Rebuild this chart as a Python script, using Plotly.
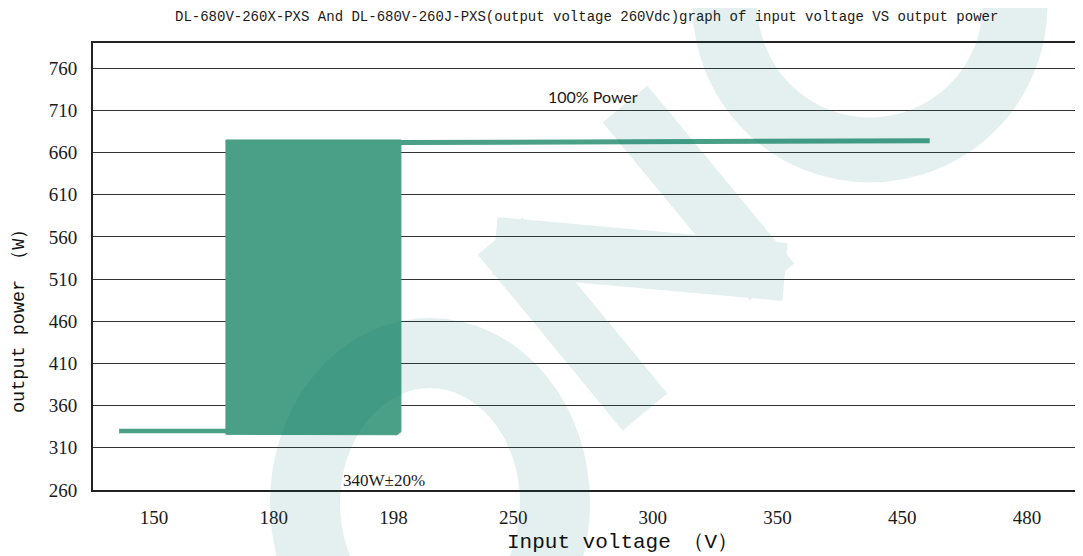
import plotly.graph_objects as go


# voltage axis is drawn as evenly spaced slots (0 = 150 V ... 7 = 480 V), like the original
VOLTAGE_LABELS = ["150", "180", "198", "250", "300", "350", "450", "480"]
VOLTAGE_SLOTS = [0, 0.96, 1.92, 2.88, 4.0, 5.0, 6.0, 7.0]
POWER_TICKS = [260, 310, 360, 410, 460, 510, 560, 610, 660, 710, 760]

# low input voltage: derated output (~330 W)
low_x = [-0.28, 0.6]
low_y = [330, 330]

# 180-198 V band between 340W +-20% and full power
band_x = [0.577, 0.577, 1.98, 1.98, 1.95, 0.577]
band_y = [326, 675, 675, 329, 325.5, 326]

# 198 V and above: 100% power
full_x = [1.98, 6.22]
full_y = [672, 674]


GREEN = "#4a9f87"
GRID = "#333333"
TEXT = "#1a1a1a"
WATERMARK = "rgba(0,120,110,0.11)"
SERIF = "Liberation Serif"
MONO = "Liberation Mono"

# page body has an 8px margin, so the figure is 8px smaller than the window
FIG_W, FIG_H = 1075, 548
MARGIN = dict(l=85, r=0, t=35, b=66)
PLOT_LEFT, PLOT_BOTTOM, PLOT_W, PLOT_H = 93, 490, 990, 447


def px(x):
    # screen pixel -> paper x
    return (x - PLOT_LEFT) / PLOT_W


def py(y):
    # screen pixel -> paper y
    return (PLOT_BOTTOM - y) / PLOT_H


fig = go.Figure()

fig.add_trace(go.Scatter(x=band_x, y=band_y, mode="lines", fill="toself",
                         fillcolor=GREEN, line=dict(color=GREEN, width=1)))
fig.add_trace(go.Scatter(x=low_x, y=low_y, mode="lines",
                         line=dict(color=GREEN, width=4.5)))
fig.add_trace(go.Scatter(x=full_x, y=full_y, mode="lines",
                         line=dict(color=GREEN, width=5)))

fig.update_layout(width=FIG_W, height=FIG_H, autosize=False,
                  margin=MARGIN,
                  plot_bgcolor="white", paper_bgcolor="white",
                  showlegend=False,
                  font=dict(family=SERIF, color=TEXT))

fig.update_xaxes(range=[-0.489, 7.449],
                 tickvals=VOLTAGE_SLOTS, ticktext=VOLTAGE_LABELS,
                 tickfont=dict(family=SERIF, size=19, color=TEXT),
                 ticklabelstandoff=9,
                 showgrid=False, zeroline=False,
                 showline=True, mirror=True, linecolor="#222222", linewidth=2)

fig.update_yaxes(range=[260, 790], tickvals=POWER_TICKS,
                 tickfont=dict(family=SERIF, size=19, color=TEXT),
                 ticklabelstandoff=10,
                 showgrid=True, gridcolor=GRID, gridwidth=1, zeroline=False,
                 showline=True, mirror=False, linecolor="#222222", linewidth=2)

# chart title
fig.add_annotation(text="DL-680V-260X-PXS And DL-680V-260J-PXS(output voltage 260Vdc)graph of input voltage VS output power",
                   xref="paper", yref="paper", x=px(586), y=py(17),
                   xanchor="center", yanchor="middle", showarrow=False,
                   font=dict(family=MONO, size=14, color=TEXT))

# axis titles
fig.add_annotation(text="Input voltage （V）",
                   xref="paper", yref="paper", x=px(622), y=py(542),
                   xanchor="center", yanchor="middle", showarrow=False,
                   font=dict(family=MONO, size=21, color="#111111"))
fig.add_annotation(text="output power （W）", textangle=-90,
                   xref="paper", yref="paper", x=px(20), y=py(317),
                   xanchor="center", yanchor="middle", showarrow=False,
                   font=dict(family=MONO, size=18.5, color="#111111"))

# region labels
fig.add_annotation(text="100% Power", x=3.52, y=726,
                   showarrow=False, font=dict(family="Lato", size=16, color=TEXT))
fig.add_annotation(text="340W±20%", x=1.845, y=271,
                   showarrow=False, font=dict(family=SERIF, size=17, color=TEXT))

# faint logo watermark over the chart ("o", "n", "e")
fig.add_shape(type="circle", xref="paper", yref="paper",
              x0=px(305), x1=px(555), y0=py(653), y1=py(353),
              line=dict(color=WATERMARK, width=70), layer="above")
fig.add_shape(type="circle", xref="paper", yref="paper",
              x0=px(725), x1=px(1015), y0=py(150), y1=py(-140),
              line=dict(color=WATERMARK, width=65), layer="above")
n_path = (f"M {px(625)} {py(104)} L {px(772)} {py(282)} "
          f"M {px(785)} {py(272)} L {px(495)} {py(246)} "
          f"M {px(500)} {py(236)} L {px(645)} {py(412)}")
fig.add_shape(type="path", xref="paper", yref="paper", path=n_path,
              line=dict(color=WATERMARK, width=58), layer="above")

fig.write_html("out.html")
